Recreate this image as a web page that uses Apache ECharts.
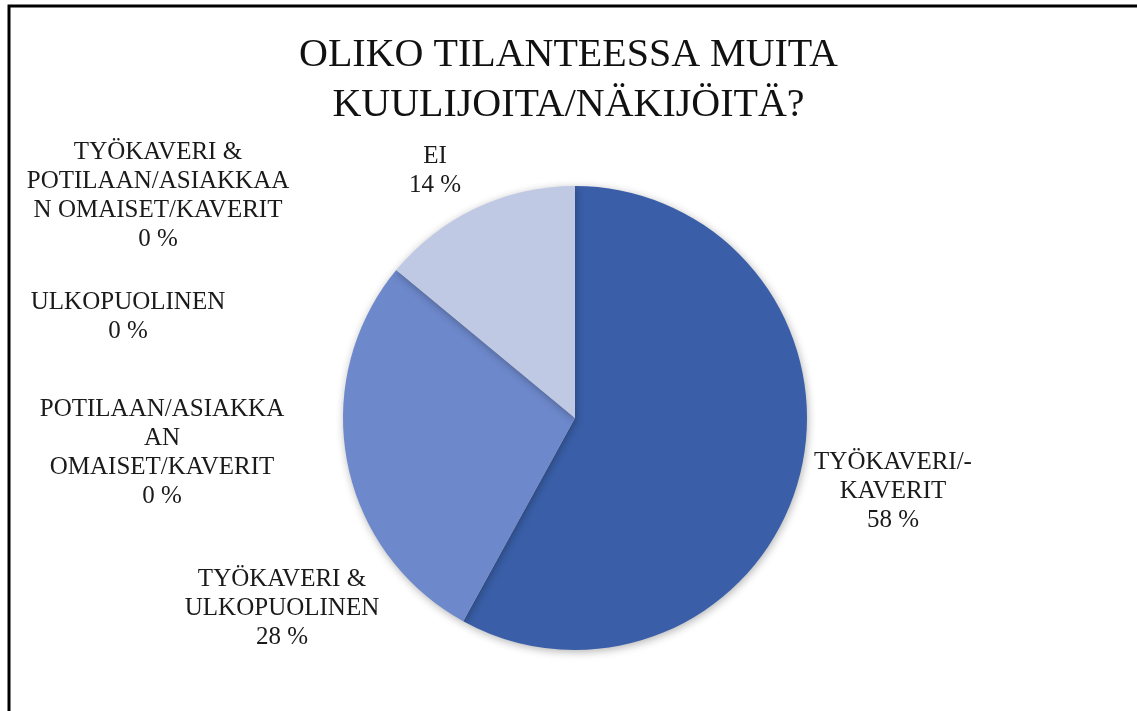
<!DOCTYPE html>
<html><head><meta charset="utf-8">
<script src="https://cdn.jsdelivr.net/npm/echarts@6/dist/echarts.min.js"></script>
<style>html,body{margin:0;padding:0;background:#fff;}#c{width:1137px;height:711px;}</style>
</head><body><div id="c"></div>
<script>
const titleText = "OLIKO TILANTEESSA MUITA\nKUULIJOITA/NÄKIJÖITÄ?";
const categories = [
  "TYÖKAVERI/-KAVERIT",
  "TYÖKAVERI & ULKOPUOLINEN",
  "POTILAAN/ASIAKKAAN OMAISET/KAVERIT",
  "ULKOPUOLINEN",
  "TYÖKAVERI & POTILAAN/ASIAKKAAN OMAISET/KAVERIT",
  "EI"
];
const values = [58, 28, 0, 0, 0, 14];
const labelText = [
  "TYÖKAVERI/-\nKAVERIT",
  "TYÖKAVERI &\nULKOPUOLINEN",
  "POTILAAN/ASIAKKA\nAN\nOMAISET/KAVERIT",
  "ULKOPUOLINEN",
  "TYÖKAVERI &\nPOTILAAN/ASIAKKAA\nN OMAISET/KAVERIT",
  "EI"
];
const colors = ["#3A5FA8", "#6D88CB", "#BFC9E4", "#3A5FA8", "#6D88CB", "#BFC9E4"];
// label anchor positions (layout)
const labelPos = [[893, 491], [282, 608], [162, 453], [128, 317], [158, 196], [435, 171]];

const chart = echarts.init(document.getElementById('c'), null, {renderer: 'canvas'});
const font = "'Liberation Serif', 'Times New Roman', serif";
chart.setOption({
  animation: false,
  backgroundColor: '#fff',
  title: {
    text: titleText,
    left: 'center',
    top: 25,
    textStyle: {fontFamily: font, fontSize: 40, fontWeight: 'normal', color: '#111', lineHeight: 50}
  },
  graphic: [{
    type: 'rect', shape: {x: 9, y: 6, width: 1200, height: 800},
    style: {fill: null, stroke: '#000', lineWidth: 3}, z: 100
  }],
  series: [{
    type: 'pie',
    center: [575, 418],
    radius: 232,
    startAngle: 90,
    clockwise: true,
    avoidLabelOverlap: false,
    stillShowZeroSum: true,
    data: categories.map((c, i) => ({name: c, value: values[i], itemStyle: {color: colors[i]}})),
    itemStyle: {shadowBlur: 8, shadowColor: 'rgba(0,0,0,0.3)', shadowOffsetX: 1, shadowOffsetY: 2, borderWidth: 0},
    label: {
      show: true,
      position: 'outside',
      formatter: p => labelText[p.dataIndex] + "\n" + Math.round(p.percent) + " %",
      fontFamily: font, fontSize: 25, color: '#1a1a1a', lineHeight: 29, align: 'center'
    },
    labelLine: {show: false},
    labelLayout: p => ({x: labelPos[p.dataIndex][0], y: labelPos[p.dataIndex][1], align: 'center', verticalAlign: 'middle', hideOverlap: false})
  }]
});
</script></body></html>
